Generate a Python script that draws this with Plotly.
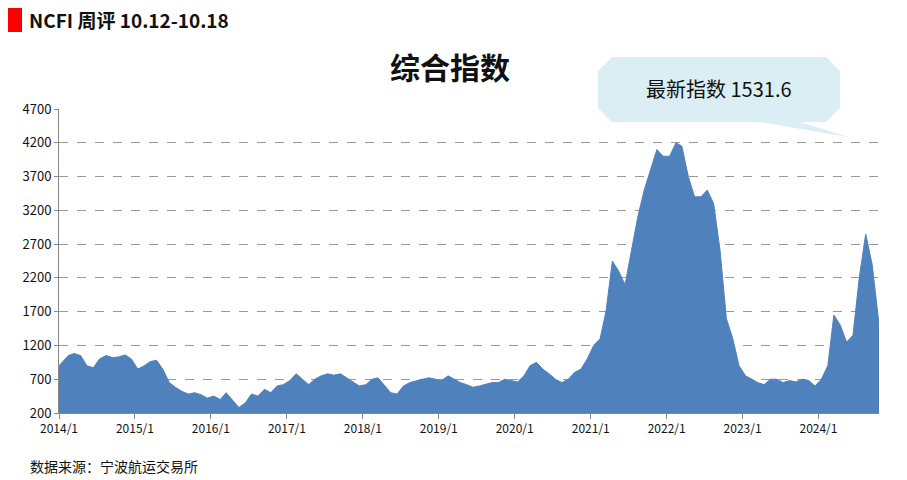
import plotly.graph_objects as go
import pandas as pd

# NCFI 综合指数, monthly estimates
dates = ["2014-01-01"] + pd.date_range("2014-01-15", periods=130, freq="MS").strftime("%Y-%m-15").tolist()
dates[-1] = "2024-10-18"
values = [
    900,
    1050, 1080, 1050, 900, 870, 1000, 1050, 1020, 1030, 1060, 1000, 850,
    900, 960, 980, 850, 650, 580, 520, 480, 500, 470, 420, 450,
    400, 500, 380, 280, 350, 480, 450, 550, 500, 600, 620, 680,
    780, 700, 620, 700, 750, 780, 760, 780, 720, 650, 600, 620,
    700, 720, 600, 500, 480, 600, 650, 680, 700, 720, 700, 680,
    750, 700, 650, 620, 580, 600, 620, 650, 650, 700, 680, 660,
    750, 900, 950, 850, 780, 700, 650, 700, 800, 850, 1000, 1200,
    1300, 1700, 2450, 2300, 2100, 2600, 3100, 3500, 3800, 4100, 4000, 4000,
    4200, 4150, 3700, 3400, 3400, 3500, 3300, 2600, 1600, 1300, 900, 750,
    700, 650, 620, 700, 700, 650, 680, 660, 700, 680, 600, 700,
    900, 1650, 1500, 1250, 1350, 2200, 2850, 2400, 1600, 1531.6,
]
y_ticks = list(range(200, 4701, 500))
x_ticks = [f"{y}-01-01" for y in range(2014, 2025)]
x_labels = [f"{y}/1" for y in range(2014, 2025)]

OFF = 8  # page body margin
W, H = 907 - OFF, 480 - OFF
L, R, T, B = 59 - OFF, 28, 109 - OFF, 67
def px(x, y):
    # reference pixel -> paper coordinates
    return (x - OFF - L) / (W - L - R), (H - B - (y - OFF)) / (H - T - B)

fig = go.Figure(go.Scatter(
    x=dates, y=values, mode="lines", fill="tozeroy",
    line=dict(color="#4f81bd", width=1), fillcolor="#4f81bd",
))

# callout bubble
pts = [(612, 57), (826, 57), (840, 71), (840, 108), (826, 122), (800, 122),
       (848, 137), (760, 122), (612, 122), (598, 108), (598, 71)]
path = "M " + " L ".join(f"{px(*p)[0]:.4f},{px(*p)[1]:.4f}" for p in pts) + " Z"
fig.add_shape(type="path", path=path, xref="paper", yref="paper",
              fillcolor="#dbeef3", line=dict(width=0), layer="above")

def note(x, y, text, size, xanchor="center"):
    fx, fy = px(x, y)
    fig.add_annotation(x=fx, y=fy, xref="paper", yref="paper", text=text, showarrow=False,
                       xanchor=xanchor, yanchor="middle", font=dict(size=size, color="#111"))

note(719, 89, "最新指数 1531.6", 20)
note(450, 66, "<b>综合指数</b>", 30)
note(27, 20, "<b>NCFI 周评 10.12-10.18</b>", 19, "left")
note(28, 466, "数据来源：宁波航运交易所", 14, "left")
fig.add_shape(type="rect", xref="paper", yref="paper",
              x0=px(0, 0)[0], x1=px(22, 0)[0], y0=px(0, 32)[1], y1=px(0, 8)[1],
              fillcolor="#ff0000", line=dict(width=0))

fig.update_layout(
    width=W, height=H, margin=dict(l=L, r=R, t=T, b=B),
    paper_bgcolor="white", plot_bgcolor="white", showlegend=False,
    font=dict(family="Noto Sans CJK SC", color="#111"),
    xaxis=dict(range=["2014-01-01", "2024-10-18"], tickvals=x_ticks, ticktext=x_labels,
               ticks="outside", ticklen=5, tickcolor="#888", showgrid=False,
               showline=True, linecolor="#888", tickfont=dict(size=12)),
    yaxis=dict(range=[200, 4700], tickvals=y_ticks, showgrid=True, gridcolor="#999",
               griddash="dash", showline=True, linecolor="#888", ticks="outside",
               ticklen=4, tickcolor="#888", tickfont=dict(size=13), zeroline=False),
)
fig.write_html("out.html")
